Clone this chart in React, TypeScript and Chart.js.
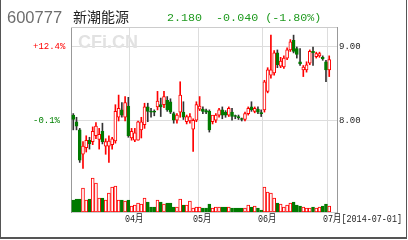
import React, { useEffect, useRef } from "react";
import { Chart, registerables } from "chart.js";

Chart.register(...registerables);

// ---- data ----
const opens = [
  8.08, 7.99, 7.88, 7.55, 7.64, 7.74, 7.72, 7.80, 7.75, 7.86, 7.66, 7.66, 7.68, 7.73, 8.05, 8.15, 8.05, 8.20,
  7.77, 7.74, 7.74, 7.88, 7.95, 8.19, 8.12, 8.12, 8.19, 8.22, 8.22, 8.28, 8.26, 8.10, 8.01, 8.12, 8.12, 7.99, 8.00, 7.89, 8.01,
  8.16, 8.16, 8.14, 8.13, 7.99, 8.01, 8.08, 8.15, 8.12, 8.08, 8.12, 8.06, 8.06, 8.02, 8.02, 8.10, 8.19, 8.13, 8.16, 8.11,
  8.15, 8.40, 8.62, 8.65, 8.92, 8.74, 8.73, 8.85, 8.96, 9.09, 8.98, 8.80, 8.69, 8.69, 8.78, 8.94, 8.87, 8.88, 8.86, 8.80,
  8.69,
];
const highs = [
  8.10, 8.05, 7.90, 7.72, 7.80, 7.78, 7.92, 7.98, 7.90, 7.97, 7.76, 7.80, 7.78, 8.22, 8.35, 8.25, 8.33, 8.32,
  7.90, 7.90, 8.00, 8.05, 8.24, 8.24, 8.17, 8.15, 8.40, 8.31, 8.40, 8.33, 8.30, 8.12, 8.10, 8.53, 8.26, 8.08, 8.10, 8.03, 8.26,
  8.33, 8.19, 8.16, 8.15, 8.05, 8.10, 8.17, 8.19, 8.14, 8.19, 8.17, 8.08, 8.08, 8.04, 8.12, 8.19, 8.26, 8.19, 8.19, 8.15,
  8.55, 8.72, 9.16, 8.95, 8.96, 8.86, 8.88, 8.99, 9.10, 9.16, 9.00, 8.98, 8.75, 8.80, 8.96, 9.00, 8.93, 8.93, 8.88, 8.82,
  8.88,
];
const lows = [
  7.88, 7.88, 7.44, 7.36, 7.58, 7.62, 7.68, 7.76, 7.62, 7.69, 7.55, 7.44, 7.62, 7.70, 8.00, 8.05, 8.00, 7.78,
  7.74, 7.72, 7.74, 7.77, 7.90, 7.99, 8.05, 8.07, 8.15, 8.06, 8.18, 8.13, 8.10, 7.97, 7.97, 8.05, 8.02, 7.96, 7.97, 7.59, 7.99,
  8.14, 8.10, 8.10, 7.85, 7.96, 7.98, 8.05, 8.03, 8.05, 8.06, 8.01, 8.03, 8.02, 8.00, 8.00, 8.08, 8.13, 8.11, 8.10, 8.06,
  8.12, 8.38, 8.58, 8.62, 8.72, 8.72, 8.71, 8.83, 8.94, 8.92, 8.85, 8.75, 8.60, 8.66, 8.76, 8.75, 8.85, 8.86, 8.82, 8.53,
  8.60,
];
const closes = [
  8.02, 7.93, 7.47, 7.66, 7.74, 7.69, 7.86, 7.93, 7.82, 7.72, 7.72, 7.73, 7.76, 8.13, 8.17, 8.08, 8.25, 7.80,
  7.86, 7.84, 7.99, 7.99, 8.19, 8.13, 8.12, 8.12, 8.27, 8.19, 8.33, 8.15, 8.12, 8.01, 8.08, 8.35, 8.05, 8.06, 8.06, 8.01, 8.22,
  8.20, 8.13, 8.12, 7.88, 8.08, 8.08, 8.15, 8.08, 8.08, 8.17, 8.06, 8.06, 8.04, 8.02, 8.10, 8.17, 8.15, 8.17, 8.12, 8.10,
  8.53, 8.69, 8.69, 8.92, 8.76, 8.81, 8.85, 8.96, 9.07, 8.94, 8.90, 8.77, 8.73, 8.76, 8.94, 8.92, 8.91, 8.91, 8.84, 8.69,
  8.83,
];
const volumes = [
  12, 13, 13, 24, 12, 13, 34, 29, 14, 14, 12, 19, 25, 26, 12, 12, 11, 12,
  6, 7, 9, 8, 14, 10, 5, 5, 12, 10, 8, 9, 9, 5, 5, 13, 7, 7, 11, 4, 5,
  5, 4, 4, 8, 4, 5, 5, 5, 5, 5, 4, 4, 4, 4, 4, 7, 5, 6, 4, 2,
  25, 20, 19, 14, 9, 8, 5, 7, 9, 10, 7, 6, 5, 4, 4, 5, 4, 5, 6, 8,
  6,
];
const monthTickPositions = [17.5, 38.5, 58.5, 78.5];
const monthLabels = ["04月", "05月", "06月", "07月[2014-07-01]"];
const priceTicks = [8, 9];
const priceLabels = ["8.00", "9.00"];
const pctLabels = ["-0.1%", "+12.4%"];
const pctColors = ["#008000", "#ff0000"];

const RED = "#ff0000";
const GREEN = "#007a00";
const MONO = "'Liberation Mono', 'DejaVu Sans Mono', 'Noto Sans CJK SC', monospace";
const X_MIN = -0.7;
const X_MAX = 81.4;

export default function App() {
  const ref = useRef<HTMLCanvasElement | null>(null);
  const [labelPos, setLabelPos] = React.useState<number[]>([]);
  const [labelTop, setLabelTop] = React.useState<number>(214);

  useEffect(() => {
    if (!ref.current) return;
    const idx = opens.map((_, i) => i);
    const up = idx.map((i) => closes[i] > opens[i]);

    const framePlugin = {
      id: "frame",
      beforeDatasetsDraw(chart: any) {
        const { ctx, chartArea } = chart;
        ctx.save();
        ctx.font = "bold 18px 'Liberation Sans', Arial, sans-serif";
        ctx.fillStyle = "#e2e2e2";
        ctx.textBaseline = "alphabetic";
        ctx.fillText("CFi.CN", chartArea.left + 7, chartArea.top + 21);
        ctx.strokeStyle = "#cccccc";
        ctx.lineWidth = 1;
        ctx.beginPath();
        ctx.moveTo(chartArea.left, chartArea.top + 0.5);
        ctx.lineTo(chartArea.right, chartArea.top + 0.5);
        ctx.stroke();
        ctx.restore();
      },
    };

    const chart = new Chart(ref.current, {
      type: "bar",
      data: {
        datasets: [
          {
            type: "bar",
            label: "body",
            data: idx.map((i) => ({ x: i, y: [Math.min(opens[i], closes[i]), Math.max(opens[i], closes[i])] })) as any,
            xAxisID: "x",
            yAxisID: "y",
            barThickness: 3,
            minBarLength: 1,
            grouped: false,
            borderSkipped: false,
            borderWidth: 1,
            backgroundColor: idx.map((i) => (up[i] ? "#ffffff" : GREEN)),
            borderColor: idx.map((i) => (up[i] ? RED : GREEN)),
            order: 0,
          },
          {
            type: "bar",
            label: "wick",
            data: idx.map((i) => ({ x: i, y: [lows[i], highs[i]] })) as any,
            xAxisID: "x",
            yAxisID: "y",
            barThickness: 1,
            grouped: false,
            borderWidth: 0,
            backgroundColor: idx.map((i) => (up[i] ? RED : "#333333")),
            order: 1,
          },
          {
            type: "bar",
            label: "volume",
            data: idx.map((i) => ({ x: i, y: volumes[i] })) as any,
            xAxisID: "x",
            yAxisID: "yVol",
            barThickness: 3,
            grouped: false,
            borderSkipped: false,
            borderWidth: 1,
            backgroundColor: idx.map((i) => (up[i] ? "#ffffff" : GREEN)),
            borderColor: idx.map((i) => (up[i] ? RED : GREEN)),
            order: 2,
          },
        ],
      },
      options: {
        responsive: false,
        animation: false,
        events: [],
        layout: { padding: { left: 33, top: 27, right: 0, bottom: 0 } },
        plugins: { legend: { display: false }, tooltip: { enabled: false }, title: { display: false } },
        scales: {
          x: {
            type: "linear",
            position: "bottom",
            offset: false,
            min: X_MIN,
            max: X_MAX,
            afterBuildTicks: (s: any) => {
              s.ticks = monthTickPositions.map((v) => ({ value: v }));
            },
            afterFit: (s: any) => {
              s.height = 28;
              s.paddingLeft = 0;
              s.paddingRight = 0;
            },
            ticks: { display: false },
            grid: { color: "#dddddd", drawTicks: false, lineWidth: 1, offset: false },
            border: { display: true, color: "#cccccc" },
          },
          y: {
            type: "linear",
            position: "right",
            min: 6.77,
            max: 9.27,
            afterBuildTicks: (s: any) => {
              s.ticks = priceTicks.map((v) => ({ value: v }));
            },
            afterFit: (s: any) => {
              s.width = 71;
            },
            ticks: {
              padding: 2,
              color: "#222222",
              font: { family: MONO, size: 9 },
              callback: (_v: any, i: number) => priceLabels[i],
            },
            grid: { color: "#dddddd", drawTicks: false },
            border: { display: true, color: "#999999" },
          },
          yPct: {
            type: "linear",
            position: "left",
            min: 6.77,
            max: 9.27,
            afterBuildTicks: (s: any) => {
              s.ticks = priceTicks.map((v) => ({ value: v }));
            },
            afterFit: (s: any) => {
              s.width = 38;
            },
            ticks: {
              crossAlign: "far",
              padding: 0,
              color: (c: any) => pctColors[c.index] || "#000",
              font: { family: MONO, size: 9 },
              callback: (_v: any, i: number) => pctLabels[i],
            },
            grid: { display: false, drawTicks: false },
            border: { display: true, color: "#999999" },
          },
          yVol: {
            type: "linear",
            display: false,
            min: 0,
            max: 185,
          },
        },
      } as any,
      plugins: [framePlugin],
    });
    const xs = chart.scales.x;
    setLabelPos(monthTickPositions.map((v) => xs.getPixelForValue(v)));
    setLabelTop(chart.chartArea.bottom + 2);
    return () => chart.destroy();
  }, []);

  return (
    <div style={{ position: "fixed", left: 0, top: 0, width: 408, height: 240, background: "#fff", overflow: "hidden" }}>
      <canvas ref={ref} width={408} height={240} style={{ position: "absolute", left: 0, top: 0, width: 408, height: 240 }} />
      <div style={{ position: "absolute", left: 7, top: 9, fontFamily: "'Liberation Sans', Arial, sans-serif", fontSize: 16.5, lineHeight: "16.5px", color: "#6e6e6e", whiteSpace: "pre" }}>600777</div>
      <div style={{ position: "absolute", left: 73, top: 9, fontFamily: "'Noto Sans CJK SC', sans-serif", fontSize: 14, lineHeight: "14px", color: "#222", whiteSpace: "pre" }}>新潮能源</div>
      <div style={{ position: "absolute", left: 167, top: 13, fontFamily: MONO, fontSize: 11.7, lineHeight: "11.7px", color: "#1f9a1f", whiteSpace: "pre" }}>2.180  -0.040 (-1.80%)</div>
      {labelPos.map((x, i) => (
        <div
          key={i}
          style={{
            position: "absolute",
            left: Math.round(x) - 5,
            top: labelTop,
            fontFamily: MONO,
            fontSize: 10.5,
            lineHeight: "11px",
            color: "#222",
            whiteSpace: "pre",
            transform: "scaleX(0.8)",
            transformOrigin: "0 0",
          }}
        >
          {monthLabels[i]}
        </div>
      ))}
      <div style={{ position: "absolute", left: 0, top: 0, width: 1, height: 239, background: "#555" }} />
      <div style={{ position: "absolute", left: 406, top: 0, width: 1, height: 239, background: "#555" }} />
      <div style={{ position: "absolute", left: 0, top: 237, width: 407, height: 2, background: "#555" }} />
    </div>
  );
}
